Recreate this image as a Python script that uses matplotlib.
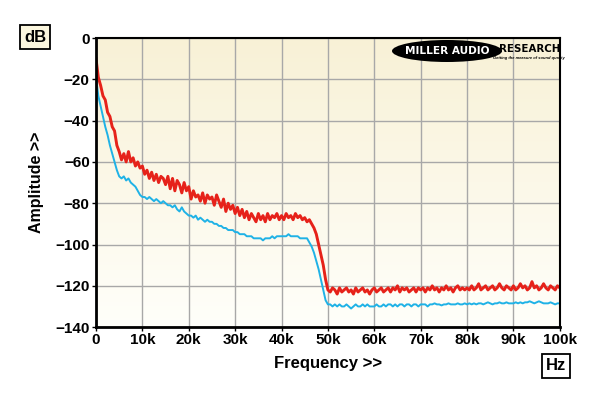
import numpy as np
import matplotlib

matplotlib.use("Agg")
import matplotlib.pyplot as plt
from matplotlib.colors import LinearSegmentedColormap
from matplotlib.patches import Ellipse

# Frequency sample grid (kHz steps of 0.5)
freq_khz = np.arange(0, 100.5, 0.5)

# Red trace (dB)
red_db = [
    -10, -19, -23, -28, -30, -36, -38, -43, -45, -52, -55, -59, -56, -60, -55, -60, -58, -62, -60, -63,
    -62, -66, -64, -68, -65, -69, -66, -70, -67, -68, -71, -67, -73, -68, -74, -69, -71, -75, -70, -74,
    -72, -78, -74, -77, -76, -79, -75, -80, -76, -78, -77, -81, -76, -79, -82, -78, -84, -80, -83, -81,
    -85, -82, -86, -83, -87, -84, -88, -85, -87, -89, -85, -88, -86, -89, -85, -88, -86, -87, -85, -88,
    -86, -88, -85, -87, -86, -88, -85, -87, -86, -88, -87, -89, -88, -90, -92, -95, -100, -105, -110, -117,
    -122, -123, -121, -122, -124, -121, -123, -122, -121, -123, -122, -124, -121, -123, -122, -121, -123, -122, -124, -122,
    -121, -123, -122, -121, -123, -122, -121, -123, -121, -122, -120, -123, -121, -122, -121, -123, -122, -121, -123, -121,
    -122, -121, -123, -121, -122, -120, -122, -121, -123, -121, -122, -120, -122, -121, -123, -121, -120, -122, -121, -122,
    -121, -122, -120, -122, -121, -119, -122, -121, -120, -122, -121, -120, -122, -121, -119, -121, -122, -120, -121, -122,
    -120, -122, -121, -119, -121, -120, -122, -121, -118, -121, -120, -122, -121, -119, -121, -122, -120, -121, -122, -120,
    -121,
]

# Cyan trace (dB)
cyan_db = [
    -19, -28, -33, -38, -43, -47, -52, -56, -60, -64, -67, -68, -67, -69, -68, -70, -71, -72, -74, -76,
    -77, -77, -78, -77, -78, -79, -78, -79, -80, -79, -80, -81, -81, -82, -81, -83, -84, -82, -84, -85,
    -86, -86, -87, -86, -88, -87, -88, -89, -88, -89, -89, -90, -90, -91, -91, -92, -92, -93, -93, -93,
    -94, -94, -95, -95, -95, -96, -96, -96, -97, -97, -97, -97, -98, -97, -97, -97, -96, -97, -96, -96,
    -96, -96, -96, -95, -96, -96, -96, -96, -97, -97, -97, -97, -99, -101, -104, -108, -112, -117, -122, -127,
    -129, -129, -130, -129, -130, -129, -130, -130, -129, -130, -131, -130, -129, -130, -130, -129, -130, -129, -130, -130,
    -130, -129, -130, -130, -129, -130, -129, -129, -130, -129, -130, -129, -129, -130, -129, -129, -130, -129, -129, -130,
    -129, -129, -129, -130, -129, -129, -128.5, -129, -129, -129.5, -129, -129, -128.5, -129, -129, -129, -128.5, -129, -129, -128.5,
    -129, -128.5, -129, -128.5, -129, -128.5, -128.5, -129, -128.5, -128, -128.5, -129, -128.5, -128.5, -128, -128.5, -128.5, -128, -128.5, -128.5,
    -128.5, -128, -128.5, -128, -128.5, -128, -128, -127.5, -128, -128.5, -128, -127.5, -128, -128.5, -128.5, -128.5, -128, -128.5, -129, -128.5,
    -128.5,
]

x_ticks = [0, 10000, 20000, 30000, 40000, 50000, 60000, 70000, 80000, 90000, 100000]
x_ticklabels = ["0", "10k", "20k", "30k", "40k", "50k", "60k", "70k", "80k", "90k", "100k"]
y_ticks = [0, -20, -40, -60, -80, -100, -120, -140]

plt.rcParams["font.family"] = ["Liberation Sans", "DejaVu Sans"]
plt.rcParams["font.weight"] = "bold"

fig = plt.figure(figsize=(6.0, 3.96), dpi=100)
ax = fig.add_axes([0.16, 0.174, 0.773, 0.730])

# Cream gradient background
cmap = LinearSegmentedColormap.from_list("cream", ["#f8f1d6", "#fffffa"])
ax.imshow(np.linspace(0, 1, 256).reshape(-1, 1), cmap=cmap, aspect="auto",
          extent=(0, 100000, -140, 0), origin="upper", zorder=0)

freq_hz = freq_khz * 1000
ax.plot(freq_hz, cyan_db, color="#1fb2e6", linewidth=1.4, zorder=3)
ax.plot(freq_hz, red_db, color="#e6221a", linewidth=2.1, zorder=4)

ax.set_xlim(0, 100000)
ax.set_ylim(-140, 0)
ax.set_xticks(x_ticks)
ax.set_xticklabels(x_ticklabels)
ax.set_yticks(y_ticks)
ax.tick_params(axis="both", labelsize=11, length=3, width=1, color="black", pad=1.5)
ax.grid(True, color="#a8a8a8", linewidth=1.0, zorder=1)
ax.set_axisbelow(False)
for side, sp in ax.spines.items():
    sp.set_color("black")
    sp.set_linewidth(2.0 if side in ("left", "bottom") else 1.5)
    sp.set_zorder(5)

ax.set_xlabel("Frequency >>", fontsize=12, fontweight="bold", labelpad=6)
ax.set_ylabel("Amplitude >>", fontsize=11.5, fontweight="bold", labelpad=8)

# Unit boxes
box = {"boxstyle": "square,pad=0.25", "facecolor": "#fbf6de", "edgecolor": "black", "linewidth": 1.3}
fig.text(35 / 600, 1 - 37 / 396, "dB", fontsize=12, fontweight="bold", ha="center", va="center", bbox=box)
fig.text(556 / 600, 1 - 366 / 396, "Hz", fontsize=12, fontweight="bold", ha="center", va="center",
         bbox=dict(box, facecolor="white"))

# Logo
logo = Ellipse((447 / 600, 1 - 51 / 396), 110 / 600, 22 / 396, transform=fig.transFigure,
               facecolor="black", edgecolor="none", zorder=6)
fig.patches.append(logo)
fig.text(447 / 600, 1 - 50.5 / 396, "MILLER AUDIO", fontsize=7.6, fontweight="bold", color="white",
         family="DejaVu Sans", ha="center", va="center", zorder=7)
fig.text(530 / 600, 1 - 49 / 396, "RESEARCH", fontsize=7.4, fontweight="bold", color="black",
         family="DejaVu Sans", ha="center", va="center", zorder=7)
fig.text(529 / 600, 1 - 58.5 / 396, "Getting the measure of sound quality", fontsize=2.9,
         fontweight="bold", style="italic", color="black", ha="center", va="center", zorder=7)

fig.savefig("out.png", dpi=100, facecolor="white")
